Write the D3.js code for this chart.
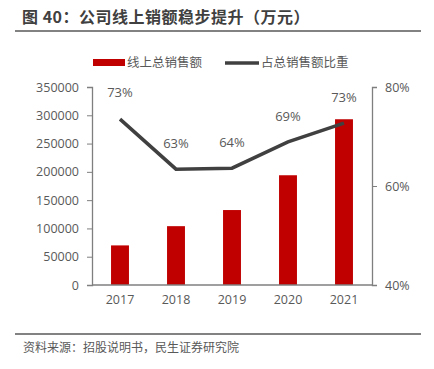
<!DOCTYPE html>
<html>
<head>
<meta charset="utf-8">
<script src="https://cdn.jsdelivr.net/npm/d3@7/dist/d3.min.js"></script>
<style>
  body { margin: 0; background: #fff; }
  text { font-family: "Noto Sans CJK SC", "Open Sans", sans-serif; }
</style>
</head>
<body>
<svg id="chart"></svg>
<script>
var years = ["2017", "2018", "2019", "2020", "2021"];
var onlineSales = [70000, 104000, 132500, 194000, 293000];
var shareOfTotal = [0.735, 0.634, 0.636, 0.689, 0.727];
var shareLabels = ["73%", "63%", "64%", "69%", "73%"];
var leftTicks = [0, 50000, 100000, 150000, 200000, 250000, 300000, 350000];
var rightTicks = [0.4, 0.6, 0.8];

var W = 434, H = 369;
var m = { left: 92, right: 372, top: 87, bottom: 285 };
var red = "#c00000", grey = "#404040", axisCol = "#7f7f7f", txt = "#595959";

var svg = d3.select("#chart").attr("width", W).attr("height", H);

// title
svg.append("text").attr("x", 22).attr("y", 23)
  .attr("font-size", 16).attr("font-weight", "bold").attr("fill", "#404040")
  .attr("letter-spacing", 0.5)
  .text("图 40：公司线上销额稳步提升（万元）");
svg.append("line").attr("x1", 15).attr("x2", 421).attr("y1", 31).attr("y2", 31)
  .attr("stroke", "#595959").attr("stroke-width", 1.5);

var x = d3.scaleBand().domain(years).range([m.left, m.right]).paddingInner(0.68).paddingOuter(0.34);
var yL = d3.scaleLinear().domain([0, 350000]).range([m.bottom, m.top]);
var yR = d3.scaleLinear().domain([0.4, 0.8]).range([m.bottom, m.top]);

// bars
svg.selectAll(".bar").data(years).enter().append("rect")
  .attr("x", function(d) { return x(d); })
  .attr("width", x.bandwidth())
  .attr("y", function(d, i) { return yL(onlineSales[i]); })
  .attr("height", function(d, i) { return m.bottom - yL(onlineSales[i]); })
  .attr("fill", red);

// axes
var gL = svg.append("g").attr("transform", "translate(" + m.left + ",0)")
  .call(d3.axisLeft(yL).tickValues(leftTicks).tickSize(5).tickPadding(8).tickFormat(d3.format("d")));
var gR = svg.append("g").attr("transform", "translate(" + m.right + ",0)")
  .call(d3.axisRight(yR).tickValues(rightTicks).tickSize(5).tickPadding(8).tickFormat(d3.format(".0%")));
var gB = svg.append("g").attr("transform", "translate(0," + m.bottom + ")")
  .call(d3.axisBottom(x).tickSize(0).tickPadding(10));
[gL, gR, gB].forEach(function(g) {
  g.select(".domain").attr("stroke", axisCol).attr("stroke-width", 1.3);
  g.selectAll(".tick line").attr("stroke", axisCol);
  g.selectAll(".tick text").attr("fill", txt).attr("font-size", 12.5)
    .style("font-family", "'Open Sans', sans-serif");
});
gB.select(".domain").attr("d", "M" + m.left + ",0H" + m.right);

// line
var line = d3.line()
  .x(function(d, i) { return x(years[i]) + x.bandwidth() / 2; })
  .y(function(d) { return yR(d); });
svg.append("path").datum(shareOfTotal).attr("d", line)
  .attr("fill", "none").attr("stroke", grey).attr("stroke-width", 3.5);

var labelOffsets = [-22, -21, -21, -21, -21];
svg.selectAll(".lbl").data(shareLabels).enter().append("text")
  .attr("x", function(d, i) { return x(years[i]) + x.bandwidth() / 2; })
  .attr("y", function(d, i) { return yR(shareOfTotal[i]) + labelOffsets[i]; })
  .attr("text-anchor", "middle").attr("font-size", 13).attr("fill", txt)
  .style("font-family", "'Open Sans', sans-serif")
  .text(function(d) { return d; });

// legend
svg.append("rect").attr("x", 93).attr("y", 59).attr("width", 32).attr("height", 7).attr("fill", red);
svg.append("text").attr("x", 127).attr("y", 67).attr("font-size", 12.5).attr("fill", txt).text("线上总销售额");
svg.append("line").attr("x1", 225).attr("x2", 259).attr("y1", 63).attr("y2", 63)
  .attr("stroke", grey).attr("stroke-width", 3.5);
svg.append("text").attr("x", 261).attr("y", 67).attr("font-size", 12.5).attr("fill", txt).text("占总销售额比重");

// footer
svg.append("line").attr("x1", 15).attr("x2", 421).attr("y1", 334).attr("y2", 334)
  .attr("stroke", "#595959").attr("stroke-width", 1.5);
svg.append("text").attr("x", 23).attr("y", 352).attr("font-size", 12).attr("fill", txt)
  .text("资料来源：招股说明书，民生证券研究院");
</script>
</body>
</html>
